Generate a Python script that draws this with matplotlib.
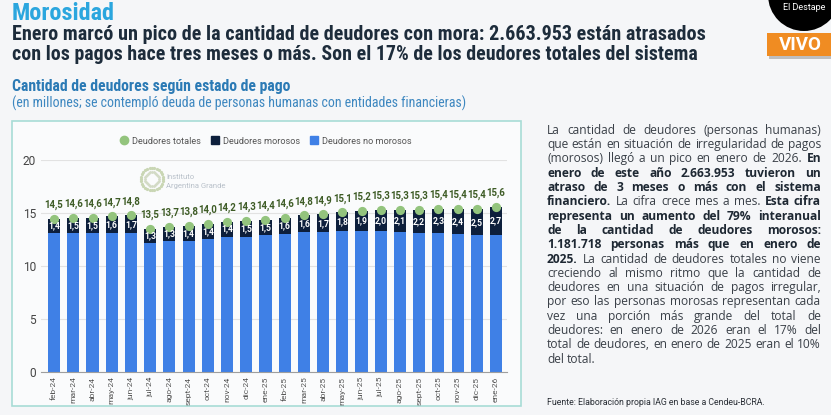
import matplotlib
matplotlib.use('Agg')
import matplotlib.pyplot as plt
from matplotlib import font_manager
from matplotlib.patches import Rectangle, Ellipse
from matplotlib.lines import Line2D
import numpy as np

# datos (millones de personas)
meses = ['feb-24', 'mar-24', 'abr-24', 'may-24', 'jun-24', 'jul-24', 'ago-24', 'sept-24',
         'oct-24', 'nov-24', 'dic-24', 'ene-25', 'feb-25', 'mar-25', 'abr-25', 'may-25',
         'jun-25', 'jul-25', 'ago-25', 'sept-25', 'oct-25', 'nov-25', 'dic-25', 'ene-26']
totales = [14.5, 14.6, 14.6, 14.7, 14.8, 13.5, 13.7, 13.8, 14.0, 14.2, 14.3, 14.4,
           14.6, 14.8, 14.9, 15.1, 15.2, 15.3, 15.3, 15.3, 15.4, 15.4, 15.4, 15.6]
morosos = [1.4, 1.5, 1.5, 1.6, 1.7, 1.3, 1.3, 1.4, 1.4, 1.4, 1.5, 1.5,
           1.6, 1.6, 1.7, 1.8, 1.9, 2.0, 2.1, 2.2, 2.3, 2.4, 2.5, 2.7]
no_morosos = [13.1, 13.1, 13.1, 13.1, 13.1, 12.2, 12.4, 12.4, 12.6, 12.8, 12.8, 12.9,
              13.0, 13.2, 13.2, 13.3, 13.3, 13.3, 13.2, 13.1, 13.1, 13.0, 12.9, 12.9]

W, H = 831, 415
AZUL = '#3f80e6'
NAVY = '#0d1f3c'
VERDE = '#93c47d'

names = {f.name for f in font_manager.fontManager.ttflist}
cond = next((n for n in ['Roboto Condensed', 'Open Sans Condensed', 'Liberation Sans Narrow']
             if n in names), 'Roboto')

fig = plt.figure(figsize=(W / 100, H / 100), dpi=100, facecolor='#f5f6f8')
r = fig.canvas.get_renderer()


def fx(x):
    return x / W


def fy(y):
    return 1 - y / H


def fit(x, y, s, width, **kw):
    t = fig.text(fx(x), fy(y), s, fontsize=10, va='center', ha='left', **kw)
    w = t.get_window_extent(r).width
    t.set_fontsize(10 * width / w)
    return t


# encabezado
fit(12, 13, 'Morosidad', 103, family=cond, fontweight='bold', color='#2ba6de')
fit(12, 34, 'Enero marcó un pico de la cantidad de deudores con mora: 2.663.953 están atrasados',
    693, family=cond, fontweight='bold', color='#1d2c3b')
fit(12, 55, 'con los pagos hace tres meses o más. Son el 17% de los deudores totales del sistema',
    681, family=cond, fontweight='bold', color='#1d2c3b')
fit(12, 87, 'Cantidad de deudores según estado de pago', 280, family=cond,
    fontweight='bold', color='#2b7ab5')
fit(12, 103, '(en millones; se contempló deuda de personas humanas con entidades financieras)',
    456, family=cond, color='#3d87c0')

# logo arriba a la derecha
fig.patches.append(Ellipse((fx(804), fy(-5)), 72 / W, 72 / H, transform=fig.transFigure,
                           facecolor='black', edgecolor='none'))
fig.text(fx(783), fy(7), 'El Destape', fontsize=6.5, color='white', family='Roboto',
         va='center', ha='left')
fig.patches.append(Rectangle((fx(769), fy(59)), 62 / W, 23 / H, transform=fig.transFigure,
                             facecolor='#9a9a9a', edgecolor='none', alpha=0.6))
fig.patches.append(Rectangle((fx(767), fy(56)), 64 / W, 23 / H, transform=fig.transFigure,
                             facecolor='#f08c22', edgecolor='none'))
fig.text(fx(800), fy(45), 'VIVO', fontsize=13.5, color='white', family='Roboto',
         fontweight='bold', va='center', ha='center')

# recuadro del gráfico
fig.patches.append(Rectangle((fx(12), fy(406)), 509 / W, 285 / H, transform=fig.transFigure,
                             facecolor='#fafbfc', edgecolor='#a8dcd6', lw=1.2, zorder=-2))

# marca de agua
ang = np.linspace(0, 2 * np.pi, 28, endpoint=False)
fig.add_artist(Line2D(fx(152 + 11 * np.cos(ang)), fy(179 + 11 * np.sin(ang)), ls='none',
                      marker='o', ms=1.3, color='#c9d6b4', transform=fig.transFigure, zorder=-1))
fig.add_artist(Line2D(fx(152 + 7 * np.cos(ang)), fy(179 + 7 * np.sin(ang)), ls='none',
                      marker='o', ms=1.0, color='#d3dbc6', transform=fig.transFigure, zorder=-1))
fig.text(fx(166), fy(177), 'Instituto', fontsize=5.5, color='#b8c0c9', family='Roboto',
         va='center', zorder=-1)
fig.text(fx(166), fy(186), 'Argentina Grande', fontsize=5.5, color='#b8c0c9', family='Roboto',
         va='center', zorder=-1)

# gráfico
ax = fig.add_axes([fx(41), 1 - 371.7 / H, (507 - 41) / W, (371.7 - 160.5) / H])
ax.set_zorder(3)
ax.set_facecolor('none')
x = np.arange(len(meses))
ax.bar(x, no_morosos, width=0.63, color=AZUL, zorder=2)
ax.bar(x, morosos, bottom=no_morosos, width=0.63, color=NAVY, zorder=2)
ax.scatter(x, totales, s=44, color=VERDE, zorder=3, linewidths=0)

for i in range(len(meses)):
    ax.annotate(f'{totales[i]:.1f}'.replace('.', ','), (i, totales[i]), xytext=(0, 10),
                textcoords='offset points', ha='center', va='center', fontsize=6.9,
                fontweight='bold', color='#3e5c26', family='Roboto', zorder=4)
    ax.text(i, no_morosos[i] + morosos[i] / 2, f'{morosos[i]:.1f}'.replace('.', ','),
            ha='center', va='center', fontsize=6.2, fontweight='bold', color='white',
            family='Roboto', zorder=4)

ax.set_xlim(-0.68, 23.57)
ax.set_ylim(0, 20)
ax.set_yticks([0, 5, 10, 15, 20])
ax.set_xticks(x)
ax.set_xticklabels(meses, rotation=90, fontsize=6, color='#555555', family='Roboto')
ax.tick_params(axis='x', length=0, pad=3.5)
ax.tick_params(axis='y', length=0, pad=3.5, labelsize=8.6, labelcolor='#444444')
for lab in ax.get_yticklabels():
    lab.set_family('Roboto')
ax.yaxis.grid(True, color='#e2e2e2', lw=0.8, zorder=0)
ax.set_axisbelow(True)
for s in ['top', 'right', 'left']:
    ax.spines[s].set_visible(False)
ax.spines['bottom'].set_color('#9e9e9e')
ax.spines['bottom'].set_zorder(5)

handles = [Line2D([], [], ls='none', marker='o', ms=6, color=VERDE),
           Line2D([], [], ls='none', marker='s', ms=6, color=NAVY),
           Line2D([], [], ls='none', marker='s', ms=6, color=AZUL)]
ax.legend(handles, ['Deudores totales', 'Deudores morosos', 'Deudores no morosos'],
          loc='center', bbox_to_anchor=(0.482, 1.092), ncol=3, frameon=False,
          prop={'family': 'Roboto', 'size': 6.6}, labelcolor='#555555',
          handletextpad=0.35, columnspacing=1.05, handlelength=1.0)

# texto de la derecha (justificado)
parrafo = [
    [('La cantidad de deudores (personas humanas)', False)],
    [('que están en situación de irregularidad de pagos', False)],
    [('(morosos) llegó a un pico en enero de 2026.', False), ('En', True)],
    [('enero de este año 2.663.953 tuvieron un', True)],
    [('atraso de 3 meses o más con el sistema', True)],
    [('financiero.', True), ('La cifra crece mes a mes.', False), ('Esta cifra', True)],
    [('representa un aumento del 79% interanual', True)],
    [('de la cantidad de deudores morosos:', True)],
    [('1.181.718 personas más que en enero de', True)],
    [('2025.', True), ('La cantidad de deudores totales no viene', False)],
    [('creciendo al mismo ritmo que la cantidad de', False)],
    [('deudores en una situación de pagos irregular,', False)],
    [('por eso las personas morosas representan cada', False)],
    [('vez una porción más grande del total de', False)],
    [('deudores: en enero de 2026 eran el 17% del', False)],
    [('total de deudores, en enero de 2025 eran el 10%', False)],
    [('del total.', False)],
]

t = fig.text(0, 0, 'total de deudores, en enero de 2025 eran el 10%', fontsize=10, family='Open Sans')
fs = 10 * 273 / t.get_window_extent(r).width
t.remove()

x0, x1 = 547, 821
for k, linea in enumerate(parrafo):
    y = 130.3 + k * 14.3
    palabras = [(w, b) for seg, b in linea for w in seg.split()]
    objs = [fig.text(0, fy(y), w, fontsize=fs, family='Open Sans', va='center', ha='left',
                     fontweight='bold' if b else 'normal',
                     color='#1e2833' if b else '#3a4048') for w, b in palabras]
    anchos = [o.get_window_extent(r).width for o in objs]
    if k < len(parrafo) - 1:
        gap = (x1 - x0 - sum(anchos)) / (len(objs) - 1)
    else:
        gap = fs * 0.36
    xp = x0
    for o, a in zip(objs, anchos):
        o.set_x(fx(xp))
        xp += a + gap

fig.text(fx(547), fy(402), 'Fuente: Elaboración propia IAG en base a Cendeu-BCRA.',
         fontsize=6.3, family='Roboto', color='#2a2f36', va='center')

fig.savefig('out.png', dpi=100, facecolor=fig.get_facecolor())
